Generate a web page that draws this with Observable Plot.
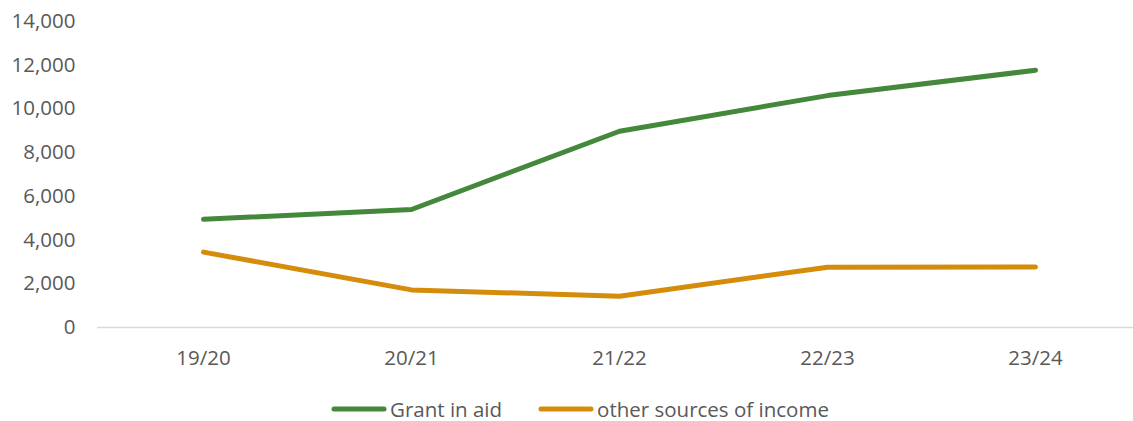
<!DOCTYPE html>
<html>
<head>
<meta charset="utf-8">
<script src="https://cdn.jsdelivr.net/npm/d3@7"></script>
<script src="https://cdn.jsdelivr.net/npm/@observablehq/plot@0.6"></script>
<style>
  html, body { margin: 0; padding: 0; background: #fff; }
  body { width: 1133px; height: 421px; overflow: hidden; position: relative; font-family: "Open Sans", "Noto Sans", sans-serif; }
  #legend { position: absolute; left: 331px; top: 395px; display: flex; align-items: center; font-size: 20.5px; color: #595959; }
  .item { display: flex; align-items: center; margin-right: 36px; }
  .item svg { margin-right: 3px; }
</style>
</head>
<body>
<div id="chart"></div>
<div id="legend"></div>
<script>
const years = ["19/20", "20/21", "21/22", "22/23", "23/24"];
const grantInAid = [4950, 5400, 8980, 10610, 11770];
const otherIncome = [3450, 1720, 1430, 2760, 2770];
const seriesNames = ["Grant in aid", "other sources of income"];
const seriesColors = ["#43883B", "#D48C0A"];
const yTicks = [0, 2000, 4000, 6000, 8000, 10000, 12000, 14000];

const rows = [];
years.forEach((y, i) => {
  rows.push({year: y, value: grantInAid[i], series: seriesNames[0]});
  rows.push({year: y, value: otherIncome[i], series: seriesNames[1]});
});

const chart = Plot.plot({
  width: 1133,
  height: 385,
  marginTop: 21,
  marginBottom: 58,
  marginLeft: 97,
  marginRight: 0,
  style: {fontFamily: '"Open Sans", "Noto Sans", sans-serif', fontSize: "20.5px", color: "#595959", background: "#fff"},
  x: {type: "point", domain: years, range: [203, 1035], padding: 0, label: null, tickSize: 0, tickPadding: 23},
  y: {domain: [0, 14000], ticks: yTicks, tickFormat: d3.format(","), label: null, tickSize: 0, tickPadding: 22},
  color: {domain: seriesNames, range: seriesColors},
  marks: [
    Plot.ruleY([0], {stroke: "#d9d9d9", strokeWidth: 1.5}),
    Plot.line(rows, {x: "year", y: "value", z: "series", stroke: "series", strokeWidth: 5, strokeLinecap: "round", strokeLinejoin: "round"})
  ]
});
document.getElementById("chart").appendChild(chart);

const legend = document.getElementById("legend");
seriesNames.forEach((name, i) => {
  const item = document.createElement("div");
  item.className = "item";
  item.innerHTML = `<svg width="56" height="10"><line x1="3" y1="5" x2="53" y2="5" stroke="${seriesColors[i]}" stroke-width="5" stroke-linecap="round"/></svg><span>${name}</span>`;
  legend.appendChild(item);
});
</script>
</body>
</html>
